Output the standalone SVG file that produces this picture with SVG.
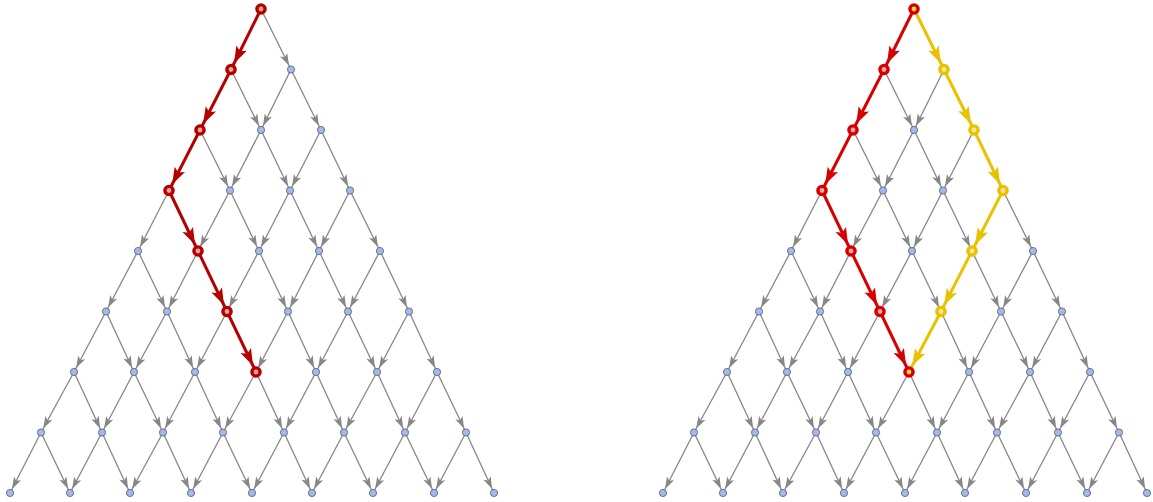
<svg xmlns="http://www.w3.org/2000/svg" width="1153" height="502" viewBox="0 0 1153 502">
<style>
.e{stroke:#878787;stroke-width:1.3;marker-end:url(#ag)}
.rl{stroke:#b50000;stroke-width:3;marker-end:url(#arl)}
.rr{stroke:#d60000;stroke-width:3;marker-end:url(#arr)}
.ye{stroke:#e8c200;stroke-width:3;marker-end:url(#ay)}
.n{fill:#a6b8e4;stroke:#4e5c88;stroke-width:0.8}
.hl{fill:#e8a4a4;stroke:#b50000;stroke-width:3.4}
.hr{fill:#f2a6a6;stroke:#d60000;stroke-width:3.4}
.hry{fill:#f2d84a;stroke:#d60000;stroke-width:3.4}
.hy{fill:#f7e7a0;stroke:#e8c200;stroke-width:3.4}
</style>
<defs>
<marker id="ag" markerUnits="userSpaceOnUse" markerWidth="30" markerHeight="20" refX="24.5" refY="10" orient="auto"><path d="M20,10 L8,6 L10.8,10 L8,14 Z" fill="#878787"/></marker>
<marker id="arl" markerUnits="userSpaceOnUse" markerWidth="30" markerHeight="20" refX="26.8" refY="10" orient="auto"><path d="M20,10 L3,4.2 L6.5,10 L3,15.8 Z" fill="#b50000"/></marker>
<marker id="arr" markerUnits="userSpaceOnUse" markerWidth="30" markerHeight="20" refX="26.8" refY="10" orient="auto"><path d="M20,10 L3,4.2 L6.5,10 L3,15.8 Z" fill="#d60000"/></marker>
<marker id="ay" markerUnits="userSpaceOnUse" markerWidth="30" markerHeight="20" refX="26.8" refY="10" orient="auto"><path d="M20,10 L3,4.2 L6.5,10 L3,15.8 Z" fill="#e8c200"/></marker>
</defs>
<rect width="1153" height="502" fill="#ffffff"/>
<g id="connectors">
<g id="edges-left">
<line class="e" x1="261" y1="9" x2="291" y2="69.5"/>
<line class="e" x1="231" y1="69.5" x2="261" y2="130"/>
<line class="e" x1="291" y1="69.5" x2="261" y2="130"/>
<line class="e" x1="291" y1="69.5" x2="321" y2="130"/>
<line class="e" x1="200" y1="130" x2="230" y2="190.5"/>
<line class="e" x1="261" y1="130" x2="230" y2="190.5"/>
<line class="e" x1="261" y1="130" x2="290" y2="190.5"/>
<line class="e" x1="321" y1="130" x2="290" y2="190.5"/>
<line class="e" x1="321" y1="130" x2="350" y2="190.5"/>
<line class="e" x1="169" y1="190.5" x2="138" y2="251"/>
<line class="e" x1="230" y1="190.5" x2="198" y2="251"/>
<line class="e" x1="230" y1="190.5" x2="259" y2="251"/>
<line class="e" x1="290" y1="190.5" x2="259" y2="251"/>
<line class="e" x1="290" y1="190.5" x2="319" y2="251"/>
<line class="e" x1="350" y1="190.5" x2="319" y2="251"/>
<line class="e" x1="350" y1="190.5" x2="380" y2="251"/>
<line class="e" x1="138" y1="251" x2="106" y2="311.5"/>
<line class="e" x1="138" y1="251" x2="167" y2="311.5"/>
<line class="e" x1="198" y1="251" x2="167" y2="311.5"/>
<line class="e" x1="259" y1="251" x2="227" y2="311.5"/>
<line class="e" x1="259" y1="251" x2="288" y2="311.5"/>
<line class="e" x1="319" y1="251" x2="288" y2="311.5"/>
<line class="e" x1="319" y1="251" x2="348" y2="311.5"/>
<line class="e" x1="380" y1="251" x2="348" y2="311.5"/>
<line class="e" x1="380" y1="251" x2="409" y2="311.5"/>
<line class="e" x1="106" y1="311.5" x2="74" y2="372"/>
<line class="e" x1="106" y1="311.5" x2="134" y2="372"/>
<line class="e" x1="167" y1="311.5" x2="134" y2="372"/>
<line class="e" x1="167" y1="311.5" x2="195" y2="372"/>
<line class="e" x1="227" y1="311.5" x2="195" y2="372"/>
<line class="e" x1="288" y1="311.5" x2="256" y2="372"/>
<line class="e" x1="288" y1="311.5" x2="316" y2="372"/>
<line class="e" x1="348" y1="311.5" x2="316" y2="372"/>
<line class="e" x1="348" y1="311.5" x2="377" y2="372"/>
<line class="e" x1="409" y1="311.5" x2="377" y2="372"/>
<line class="e" x1="409" y1="311.5" x2="437" y2="372"/>
<line class="e" x1="74" y1="372" x2="41" y2="432.5"/>
<line class="e" x1="74" y1="372" x2="102" y2="432.5"/>
<line class="e" x1="134" y1="372" x2="102" y2="432.5"/>
<line class="e" x1="134" y1="372" x2="163" y2="432.5"/>
<line class="e" x1="195" y1="372" x2="163" y2="432.5"/>
<line class="e" x1="195" y1="372" x2="223" y2="432.5"/>
<line class="e" x1="256" y1="372" x2="223" y2="432.5"/>
<line class="e" x1="256" y1="372" x2="284" y2="432.5"/>
<line class="e" x1="316" y1="372" x2="284" y2="432.5"/>
<line class="e" x1="316" y1="372" x2="344" y2="432.5"/>
<line class="e" x1="377" y1="372" x2="344" y2="432.5"/>
<line class="e" x1="377" y1="372" x2="405" y2="432.5"/>
<line class="e" x1="437" y1="372" x2="405" y2="432.5"/>
<line class="e" x1="437" y1="372" x2="466" y2="432.5"/>
<line class="e" x1="41" y1="432.5" x2="10" y2="493"/>
<line class="e" x1="41" y1="432.5" x2="70" y2="493"/>
<line class="e" x1="102" y1="432.5" x2="70" y2="493"/>
<line class="e" x1="102" y1="432.5" x2="130" y2="493"/>
<line class="e" x1="163" y1="432.5" x2="130" y2="493"/>
<line class="e" x1="163" y1="432.5" x2="191" y2="493"/>
<line class="e" x1="223" y1="432.5" x2="191" y2="493"/>
<line class="e" x1="223" y1="432.5" x2="252" y2="493"/>
<line class="e" x1="284" y1="432.5" x2="252" y2="493"/>
<line class="e" x1="284" y1="432.5" x2="312" y2="493"/>
<line class="e" x1="344" y1="432.5" x2="312" y2="493"/>
<line class="e" x1="344" y1="432.5" x2="373" y2="493"/>
<line class="e" x1="405" y1="432.5" x2="373" y2="493"/>
<line class="e" x1="405" y1="432.5" x2="434" y2="493"/>
<line class="e" x1="466" y1="432.5" x2="434" y2="493"/>
<line class="e" x1="466" y1="432.5" x2="494" y2="493"/>
<line class="rl" x1="261" y1="9" x2="231" y2="69.5"/>
<line class="rl" x1="231" y1="69.5" x2="200" y2="130"/>
<line class="rl" x1="200" y1="130" x2="169" y2="190.5"/>
<line class="rl" x1="169" y1="190.5" x2="198" y2="251"/>
<line class="rl" x1="198" y1="251" x2="227" y2="311.5"/>
<line class="rl" x1="227" y1="311.5" x2="256" y2="372"/>
</g>
<g id="edges-right">
<line class="e" x1="884" y1="69.5" x2="914" y2="130"/>
<line class="e" x1="944" y1="69.5" x2="914" y2="130"/>
<line class="e" x1="853" y1="130" x2="883" y2="190.5"/>
<line class="e" x1="914" y1="130" x2="883" y2="190.5"/>
<line class="e" x1="914" y1="130" x2="943" y2="190.5"/>
<line class="e" x1="974" y1="130" x2="943" y2="190.5"/>
<line class="e" x1="822" y1="190.5" x2="791" y2="251"/>
<line class="e" x1="883" y1="190.5" x2="851" y2="251"/>
<line class="e" x1="883" y1="190.5" x2="912" y2="251"/>
<line class="e" x1="943" y1="190.5" x2="912" y2="251"/>
<line class="e" x1="943" y1="190.5" x2="972" y2="251"/>
<line class="e" x1="1003" y1="190.5" x2="1033" y2="251"/>
<line class="e" x1="791" y1="251" x2="759" y2="311.5"/>
<line class="e" x1="791" y1="251" x2="820" y2="311.5"/>
<line class="e" x1="851" y1="251" x2="820" y2="311.5"/>
<line class="e" x1="912" y1="251" x2="880" y2="311.5"/>
<line class="e" x1="912" y1="251" x2="941" y2="311.5"/>
<line class="e" x1="972" y1="251" x2="1001" y2="311.5"/>
<line class="e" x1="1033" y1="251" x2="1001" y2="311.5"/>
<line class="e" x1="1033" y1="251" x2="1062" y2="311.5"/>
<line class="e" x1="759" y1="311.5" x2="727" y2="372"/>
<line class="e" x1="759" y1="311.5" x2="787" y2="372"/>
<line class="e" x1="820" y1="311.5" x2="787" y2="372"/>
<line class="e" x1="820" y1="311.5" x2="848" y2="372"/>
<line class="e" x1="880" y1="311.5" x2="848" y2="372"/>
<line class="e" x1="941" y1="311.5" x2="969" y2="372"/>
<line class="e" x1="1001" y1="311.5" x2="969" y2="372"/>
<line class="e" x1="1001" y1="311.5" x2="1030" y2="372"/>
<line class="e" x1="1062" y1="311.5" x2="1030" y2="372"/>
<line class="e" x1="1062" y1="311.5" x2="1090" y2="372"/>
<line class="e" x1="727" y1="372" x2="694" y2="432.5"/>
<line class="e" x1="727" y1="372" x2="755" y2="432.5"/>
<line class="e" x1="787" y1="372" x2="755" y2="432.5"/>
<line class="e" x1="787" y1="372" x2="816" y2="432.5"/>
<line class="e" x1="848" y1="372" x2="816" y2="432.5"/>
<line class="e" x1="848" y1="372" x2="876" y2="432.5"/>
<line class="e" x1="909" y1="372" x2="876" y2="432.5"/>
<line class="e" x1="909" y1="372" x2="937" y2="432.5"/>
<line class="e" x1="969" y1="372" x2="937" y2="432.5"/>
<line class="e" x1="969" y1="372" x2="997" y2="432.5"/>
<line class="e" x1="1030" y1="372" x2="997" y2="432.5"/>
<line class="e" x1="1030" y1="372" x2="1058" y2="432.5"/>
<line class="e" x1="1090" y1="372" x2="1058" y2="432.5"/>
<line class="e" x1="1090" y1="372" x2="1119" y2="432.5"/>
<line class="e" x1="694" y1="432.5" x2="663" y2="493"/>
<line class="e" x1="694" y1="432.5" x2="723" y2="493"/>
<line class="e" x1="755" y1="432.5" x2="723" y2="493"/>
<line class="e" x1="755" y1="432.5" x2="783" y2="493"/>
<line class="e" x1="816" y1="432.5" x2="783" y2="493"/>
<line class="e" x1="816" y1="432.5" x2="844" y2="493"/>
<line class="e" x1="876" y1="432.5" x2="844" y2="493"/>
<line class="e" x1="876" y1="432.5" x2="905" y2="493"/>
<line class="e" x1="937" y1="432.5" x2="905" y2="493"/>
<line class="e" x1="937" y1="432.5" x2="965" y2="493"/>
<line class="e" x1="997" y1="432.5" x2="965" y2="493"/>
<line class="e" x1="997" y1="432.5" x2="1026" y2="493"/>
<line class="e" x1="1058" y1="432.5" x2="1026" y2="493"/>
<line class="e" x1="1058" y1="432.5" x2="1087" y2="493"/>
<line class="e" x1="1119" y1="432.5" x2="1087" y2="493"/>
<line class="e" x1="1119" y1="432.5" x2="1147" y2="493"/>
<line class="rr" x1="914" y1="9" x2="884" y2="69.5"/>
<line class="rr" x1="884" y1="69.5" x2="853" y2="130"/>
<line class="rr" x1="853" y1="130" x2="822" y2="190.5"/>
<line class="rr" x1="822" y1="190.5" x2="851" y2="251"/>
<line class="rr" x1="851" y1="251" x2="880" y2="311.5"/>
<line class="rr" x1="880" y1="311.5" x2="909" y2="372"/>
<line class="ye" x1="914" y1="9" x2="944" y2="69.5"/>
<line class="ye" x1="944" y1="69.5" x2="974" y2="130"/>
<line class="ye" x1="974" y1="130" x2="1003" y2="190.5"/>
<line class="ye" x1="1003" y1="190.5" x2="972" y2="251"/>
<line class="ye" x1="972" y1="251" x2="941" y2="311.5"/>
<line class="ye" x1="941" y1="311.5" x2="909" y2="372"/>
</g>
</g>
<g id="nodes-left">
<g id="L0-0"><circle class="hl" cx="261" cy="9" r="4.1"/></g>
<g id="L1-0"><circle class="hl" cx="231" cy="69.5" r="4.1"/></g>
<g id="L1-1"><circle class="n" cx="291" cy="69.5" r="3.6"/></g>
<g id="L2-0"><circle class="hl" cx="200" cy="130" r="4.1"/></g>
<g id="L2-1"><circle class="n" cx="261" cy="130" r="3.6"/></g>
<g id="L2-2"><circle class="n" cx="321" cy="130" r="3.6"/></g>
<g id="L3-0"><circle class="hl" cx="169" cy="190.5" r="4.1"/></g>
<g id="L3-1"><circle class="n" cx="230" cy="190.5" r="3.6"/></g>
<g id="L3-2"><circle class="n" cx="290" cy="190.5" r="3.6"/></g>
<g id="L3-3"><circle class="n" cx="350" cy="190.5" r="3.6"/></g>
<g id="L4-0"><circle class="n" cx="138" cy="251" r="3.6"/></g>
<g id="L4-1"><circle class="hl" cx="198" cy="251" r="4.1"/></g>
<g id="L4-2"><circle class="n" cx="259" cy="251" r="3.6"/></g>
<g id="L4-3"><circle class="n" cx="319" cy="251" r="3.6"/></g>
<g id="L4-4"><circle class="n" cx="380" cy="251" r="3.6"/></g>
<g id="L5-0"><circle class="n" cx="106" cy="311.5" r="3.6"/></g>
<g id="L5-1"><circle class="n" cx="167" cy="311.5" r="3.6"/></g>
<g id="L5-2"><circle class="hl" cx="227" cy="311.5" r="4.1"/></g>
<g id="L5-3"><circle class="n" cx="288" cy="311.5" r="3.6"/></g>
<g id="L5-4"><circle class="n" cx="348" cy="311.5" r="3.6"/></g>
<g id="L5-5"><circle class="n" cx="409" cy="311.5" r="3.6"/></g>
<g id="L6-0"><circle class="n" cx="74" cy="372" r="3.6"/></g>
<g id="L6-1"><circle class="n" cx="134" cy="372" r="3.6"/></g>
<g id="L6-2"><circle class="n" cx="195" cy="372" r="3.6"/></g>
<g id="L6-3"><circle class="hl" cx="256" cy="372" r="4.1"/></g>
<g id="L6-4"><circle class="n" cx="316" cy="372" r="3.6"/></g>
<g id="L6-5"><circle class="n" cx="377" cy="372" r="3.6"/></g>
<g id="L6-6"><circle class="n" cx="437" cy="372" r="3.6"/></g>
<g id="L7-0"><circle class="n" cx="41" cy="432.5" r="3.6"/></g>
<g id="L7-1"><circle class="n" cx="102" cy="432.5" r="3.6"/></g>
<g id="L7-2"><circle class="n" cx="163" cy="432.5" r="3.6"/></g>
<g id="L7-3"><circle class="n" cx="223" cy="432.5" r="3.6"/></g>
<g id="L7-4"><circle class="n" cx="284" cy="432.5" r="3.6"/></g>
<g id="L7-5"><circle class="n" cx="344" cy="432.5" r="3.6"/></g>
<g id="L7-6"><circle class="n" cx="405" cy="432.5" r="3.6"/></g>
<g id="L7-7"><circle class="n" cx="466" cy="432.5" r="3.6"/></g>
<g id="L8-0"><circle class="n" cx="10" cy="493" r="3.6"/></g>
<g id="L8-1"><circle class="n" cx="70" cy="493" r="3.6"/></g>
<g id="L8-2"><circle class="n" cx="130" cy="493" r="3.6"/></g>
<g id="L8-3"><circle class="n" cx="191" cy="493" r="3.6"/></g>
<g id="L8-4"><circle class="n" cx="252" cy="493" r="3.6"/></g>
<g id="L8-5"><circle class="n" cx="312" cy="493" r="3.6"/></g>
<g id="L8-6"><circle class="n" cx="373" cy="493" r="3.6"/></g>
<g id="L8-7"><circle class="n" cx="434" cy="493" r="3.6"/></g>
<g id="L8-8"><circle class="n" cx="494" cy="493" r="3.6"/></g>
</g>
<g id="nodes-right">
<g id="R0-0"><circle class="hry" cx="914" cy="9" r="4.1"/></g>
<g id="R1-0"><circle class="hr" cx="884" cy="69.5" r="4.1"/></g>
<g id="R1-1"><circle class="hy" cx="944" cy="69.5" r="4.1"/></g>
<g id="R2-0"><circle class="hr" cx="853" cy="130" r="4.1"/></g>
<g id="R2-1"><circle class="n" cx="914" cy="130" r="3.6"/></g>
<g id="R2-2"><circle class="hy" cx="974" cy="130" r="4.1"/></g>
<g id="R3-0"><circle class="hr" cx="822" cy="190.5" r="4.1"/></g>
<g id="R3-1"><circle class="n" cx="883" cy="190.5" r="3.6"/></g>
<g id="R3-2"><circle class="n" cx="943" cy="190.5" r="3.6"/></g>
<g id="R3-3"><circle class="hy" cx="1003" cy="190.5" r="4.1"/></g>
<g id="R4-0"><circle class="n" cx="791" cy="251" r="3.6"/></g>
<g id="R4-1"><circle class="hr" cx="851" cy="251" r="4.1"/></g>
<g id="R4-2"><circle class="n" cx="912" cy="251" r="3.6"/></g>
<g id="R4-3"><circle class="hy" cx="972" cy="251" r="4.1"/></g>
<g id="R4-4"><circle class="n" cx="1033" cy="251" r="3.6"/></g>
<g id="R5-0"><circle class="n" cx="759" cy="311.5" r="3.6"/></g>
<g id="R5-1"><circle class="n" cx="820" cy="311.5" r="3.6"/></g>
<g id="R5-2"><circle class="hr" cx="880" cy="311.5" r="4.1"/></g>
<g id="R5-3"><circle class="hy" cx="941" cy="311.5" r="4.1"/></g>
<g id="R5-4"><circle class="n" cx="1001" cy="311.5" r="3.6"/></g>
<g id="R5-5"><circle class="n" cx="1062" cy="311.5" r="3.6"/></g>
<g id="R6-0"><circle class="n" cx="727" cy="372" r="3.6"/></g>
<g id="R6-1"><circle class="n" cx="787" cy="372" r="3.6"/></g>
<g id="R6-2"><circle class="n" cx="848" cy="372" r="3.6"/></g>
<g id="R6-3"><circle class="hry" cx="909" cy="372" r="4.1"/></g>
<g id="R6-4"><circle class="n" cx="969" cy="372" r="3.6"/></g>
<g id="R6-5"><circle class="n" cx="1030" cy="372" r="3.6"/></g>
<g id="R6-6"><circle class="n" cx="1090" cy="372" r="3.6"/></g>
<g id="R7-0"><circle class="n" cx="694" cy="432.5" r="3.6"/></g>
<g id="R7-1"><circle class="n" cx="755" cy="432.5" r="3.6"/></g>
<g id="R7-2"><circle class="n" cx="816" cy="432.5" r="3.6"/></g>
<g id="R7-3"><circle class="n" cx="876" cy="432.5" r="3.6"/></g>
<g id="R7-4"><circle class="n" cx="937" cy="432.5" r="3.6"/></g>
<g id="R7-5"><circle class="n" cx="997" cy="432.5" r="3.6"/></g>
<g id="R7-6"><circle class="n" cx="1058" cy="432.5" r="3.6"/></g>
<g id="R7-7"><circle class="n" cx="1119" cy="432.5" r="3.6"/></g>
<g id="R8-0"><circle class="n" cx="663" cy="493" r="3.6"/></g>
<g id="R8-1"><circle class="n" cx="723" cy="493" r="3.6"/></g>
<g id="R8-2"><circle class="n" cx="783" cy="493" r="3.6"/></g>
<g id="R8-3"><circle class="n" cx="844" cy="493" r="3.6"/></g>
<g id="R8-4"><circle class="n" cx="905" cy="493" r="3.6"/></g>
<g id="R8-5"><circle class="n" cx="965" cy="493" r="3.6"/></g>
<g id="R8-6"><circle class="n" cx="1026" cy="493" r="3.6"/></g>
<g id="R8-7"><circle class="n" cx="1087" cy="493" r="3.6"/></g>
<g id="R8-8"><circle class="n" cx="1147" cy="493" r="3.6"/></g>
</g>
</svg>
